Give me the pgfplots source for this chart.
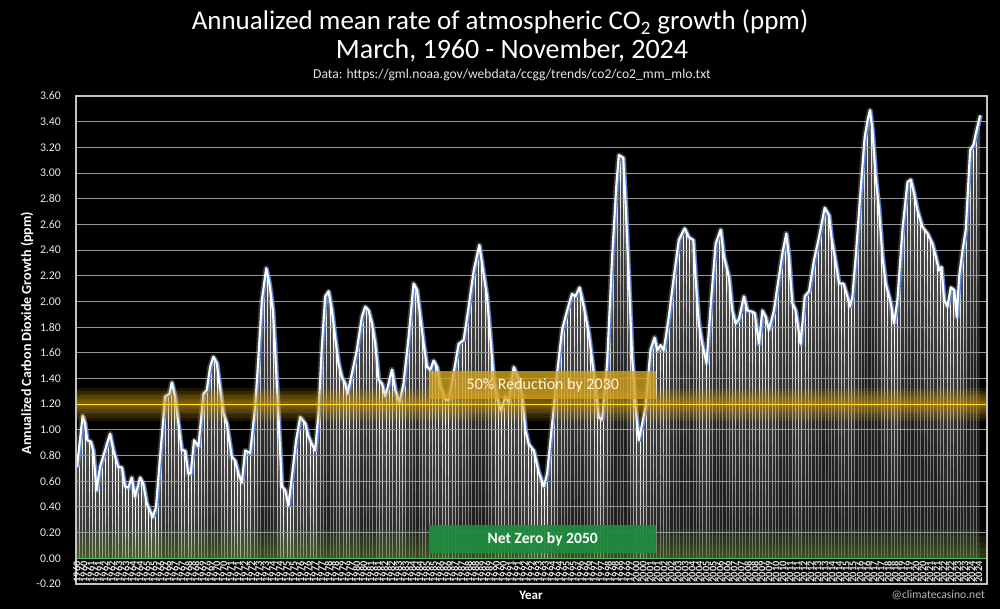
\documentclass[border=0pt]{standalone}
\usepackage{fontspec}
\setmainfont{Carlito}
\usepackage{pgfplots}
\usepackage{pgfplotstable}
\pgfplotsset{compat=1.18}
\usetikzlibrary{patterns.meta}

\definecolor{goldglow}{RGB}{210,155,20}
\definecolor{yline}{RGB}{255,228,40}
\definecolor{boxgold}{RGB}{212,162,32}
\definecolor{boxgreen}{RGB}{30,140,62}
\definecolor{gline}{RGB}{70,190,100}
\definecolor{greenglow}{RGB}{95,130,50}
\definecolor{curveblue}{RGB}{85,135,225}
\definecolor{gridc}{RGB}{150,150,150}
\definecolor{framec}{RGB}{195,195,195}
\definecolor{ticktext}{RGB}{232,232,232}

\pgfplotstableread{
t v
0.17 0.71
0.57 1.11
0.74 1.05
0.90 0.92
1.15 0.91
1.33 0.84
1.57 0.53
1.81 0.71
2.17 0.84
2.53 0.97
2.77 0.84
3.12 0.71
3.37 0.71
3.60 0.56
3.84 0.55
4.08 0.63
4.32 0.48
4.68 0.63
4.91 0.58
5.15 0.43
5.58 0.32
5.82 0.40
6.11 0.79
6.47 1.26
6.78 1.28
6.95 1.37
7.18 1.26
7.42 1.05
7.66 0.84
7.90 0.84
8.13 0.66
8.30 0.66
8.54 0.92
8.85 0.87
9.21 1.28
9.45 1.31
9.69 1.49
9.92 1.57
10.17 1.52
10.45 1.28
10.64 1.13
10.88 1.05
11.24 0.79
11.48 0.76
11.71 0.66
11.96 0.59
12.19 0.84
12.55 0.82
12.91 1.18
13.10 1.49
13.39 2.01
13.70 2.26
13.93 2.14
14.18 1.93
14.34 1.62
14.58 1.10
14.82 0.56
15.06 0.53
15.29 0.41
15.53 0.63
15.84 0.92
16.13 1.10
16.49 1.05
16.72 0.95
16.96 0.89
17.20 0.84
17.44 1.13
17.68 1.65
17.92 2.04
18.16 2.08
18.40 1.93
18.63 1.72
18.87 1.52
19.11 1.41
19.35 1.36
19.51 1.28
19.83 1.44
20.18 1.62
20.54 1.88
20.78 1.96
21.02 1.93
21.26 1.83
21.50 1.67
21.74 1.39
21.98 1.36
22.21 1.26
22.45 1.36
22.69 1.47
22.93 1.31
23.22 1.21
23.52 1.36
23.88 1.72
24.24 2.14
24.48 2.09
24.72 1.88
24.96 1.67
25.20 1.49
25.44 1.47
25.67 1.54
25.91 1.49
26.15 1.34
26.51 1.24
26.75 1.23
27.10 1.44
27.46 1.67
27.82 1.70
28.18 1.96
28.54 2.24
28.94 2.44
29.21 2.24
29.49 2.04
29.73 1.72
29.97 1.39
30.20 1.26
30.49 1.15
30.80 1.26
31.04 1.21
31.40 1.49
31.76 1.39
32.00 1.26
32.23 1.00
32.47 0.89
32.83 0.84
33.19 0.67
33.55 0.56
33.79 0.66
34.15 1.05
34.50 1.44
34.86 1.78
35.22 1.93
35.57 2.06
35.81 2.04
36.10 2.11
36.41 1.96
36.77 1.75
37.12 1.44
37.48 1.10
37.72 1.08
38.08 1.52
38.44 2.35
38.75 2.92
38.92 3.14
39.23 3.12
39.39 2.79
39.63 2.19
39.87 1.57
40.11 1.18
40.35 0.92
40.59 1.05
40.83 1.18
41.18 1.62
41.47 1.72
41.66 1.62
41.90 1.66
42.13 1.62
42.49 1.88
42.85 2.19
43.21 2.48
43.62 2.57
43.92 2.50
44.24 2.48
44.40 2.19
44.64 1.83
44.88 1.67
45.19 1.52
45.48 1.96
45.84 2.45
46.20 2.56
46.43 2.35
46.79 2.19
47.03 1.93
47.27 1.83
47.50 1.86
47.86 2.04
48.10 1.93
48.46 1.92
48.63 1.91
48.94 1.67
49.18 1.93
49.42 1.88
49.65 1.78
50.01 1.93
50.25 2.11
50.61 2.37
50.89 2.53
51.08 2.35
51.32 1.99
51.56 1.93
51.92 1.67
52.21 2.04
52.52 2.08
52.87 2.32
53.23 2.50
53.64 2.73
53.95 2.67
54.12 2.50
54.43 2.30
54.67 2.14
54.98 2.14
55.26 2.04
55.45 1.96
55.62 2.04
55.86 2.35
56.21 2.87
56.50 3.28
56.74 3.43
56.88 3.49
57.05 3.34
57.29 2.97
57.53 2.71
57.77 2.35
58.00 2.14
58.36 1.99
58.60 1.83
58.84 2.01
59.20 2.56
59.56 2.93
59.79 2.95
60.03 2.84
60.27 2.71
60.63 2.58
60.99 2.53
61.34 2.45
61.58 2.35
61.82 2.24
61.99 2.27
62.18 2.01
62.42 1.96
62.66 2.11
62.90 2.09
63.09 1.88
63.25 2.19
63.50 2.40
63.73 2.56
64.04 3.18
64.28 3.22
64.45 3.31
64.76 3.45
}\codata

\begin{document}
\begin{tikzpicture}
\path[use as bounding box, fill=black] (0,0) rectangle (500pt,304.5pt);
\begin{axis}[
  at={(38pt,12.5pt)}, anchor=south west,
  scale only axis, width=455.5pt, height=244pt,
  xmin=0.1, xmax=65.25, ymin=-0.2, ymax=3.6,
  no markers, axis on top,
  axis line style={draw=framec, line width=0.6pt},
  ytick={-0.2,0,0.2,0.4,0.6,0.8,1.0,1.2,1.4,1.6,1.8,2.0,2.2,2.4,2.6,2.8,3.0,3.2,3.4,3.6},
  xtick={0.16667,0.66667,...,64.7},
  xticklabel={\pgfmathtruncatemacro\yr{1960+\tick+0.001}\yr},
  xticklabel style={font=\bfseries\fontsize{5.2}{6}\selectfont, text=ticktext, rotate=90, anchor=east, inner sep=0.8pt},
  xticklabel shift=-12.3pt,
  major tick length=0pt,
  yticklabel style={font=\fontsize{5.9}{7}\selectfont, text=ticktext},
  yticklabel shift=4pt,
  /pgf/number format/.cd, fixed, fixed zerofill, precision=2, assume math mode=true,
]
% bars under the curve
\addplot[draw=none, fill=white!30!black] table[x=t,y=v]{\codata} \closedcycle;
\addplot[draw=none, pattern={Lines[angle=90,distance=1.65pt,line width=0.5pt]}, pattern color=white] table[x=t,y=v]{\codata} \closedcycle;
% each bar fades downward from the curve: translucent copies of the area, lowered step by step
\pgfplotsinvokeforeach{0.2,0.4,0.6,0.8,1.0,1.2,1.4,1.6,1.8}{
  \addplot[draw=none, fill=black, fill opacity=0.085] table[x=t, y expr=\thisrow{v}-#1]{\codata} \closedcycle;
}
% green glow above zero
\pgfplotsinvokeforeach{0.04,0.08,0.12,0.17,0.23}{
  \fill[greenglow, fill opacity=0.12] (axis cs:0.1,0) rectangle (axis cs:65.25,#1);
}
\fill[black] (axis cs:0.1,-0.2) rectangle (axis cs:65.25,0);

% grid
\pgfplotsinvokeforeach{-0.2,0.2,0.4,0.6,0.8,1.0,1.4,1.6,1.8,2.0,2.2,2.4,2.6,2.8,3.0,3.2,3.4}{
  \draw[gridc, line width=0.5pt] (axis cs:0.1,#1) -- (axis cs:65.25,#1);
}

% curve
\addplot[white, opacity=0.22, line width=2.8pt, line join=round] table[x=t,y=v]{\codata};
\addplot[curveblue, line width=1.2pt, xshift=0.6pt, yshift=-0.3pt, line join=round] table[x=t,y=v]{\codata};
\addplot[white, line width=1.05pt, line join=round] table[x=t,y=v]{\codata};

% 50% reduction glow band
\pgfplotsinvokeforeach{0.13,0.105,0.08,0.06,0.04,0.022}{
  \fill[goldglow, fill opacity=0.14] (axis cs:0.1,1.2-#1) rectangle (axis cs:65.25,1.2+#1);
}
\draw[yline, line width=0.7pt] (axis cs:0.1,1.2) -- (axis cs:65.25,1.2);
\fill[boxgold, fill opacity=0.8] (axis cs:25.36,1.24) rectangle (axis cs:41.61,1.46);
\node[text={rgb,255:red,255;green,247;blue,220}, font=\fontsize{8}{9}\selectfont] at (axis cs:33.48,1.35) {50\% Reduction by 2030};

% net zero
\draw[gline, line width=0.8pt] (axis cs:0.1,0) -- (axis cs:65.25,0);
\fill[boxgreen, fill opacity=0.92] (axis cs:25.36,0.04) rectangle (axis cs:41.61,0.257);
\node[text=white, font=\bfseries\fontsize{7.8}{9}\selectfont] at (axis cs:33.48,0.148) {Net Zero by 2050};
\end{axis}

\node[anchor=base, text=white, font=\fontsize{13.5}{16}\selectfont] at (250pt,289.5pt) {Annualized mean rate of atmospheric CO\textsubscript{2} growth (ppm)};
\node[anchor=base, text=white, font=\fontsize{14}{16}\selectfont] at (256pt,275pt) {March, 1960 - November, 2024};
\node[anchor=base, text=white!90!black, font=\fontsize{6.8}{8}\selectfont] at (256pt,265pt) {Data: https://gml.noaa.gov/webdata/ccgg/trends/co2/co2\_mm\_mlo.txt};
\node[rotate=90, text=white, font=\bfseries\fontsize{7}{8}\selectfont] at (13.5pt,138pt) {Annualized Carbon Dioxide Growth (ppm)};
\node[text=white, font=\bfseries\fontsize{6.5}{8}\selectfont] at (265.5pt,7pt) {Year};
\node[anchor=east, text=white!72!black, font=\fontsize{5.8}{7}\selectfont] at (496pt,7pt) {@climatecasino.net};
\end{tikzpicture}
\end{document}
